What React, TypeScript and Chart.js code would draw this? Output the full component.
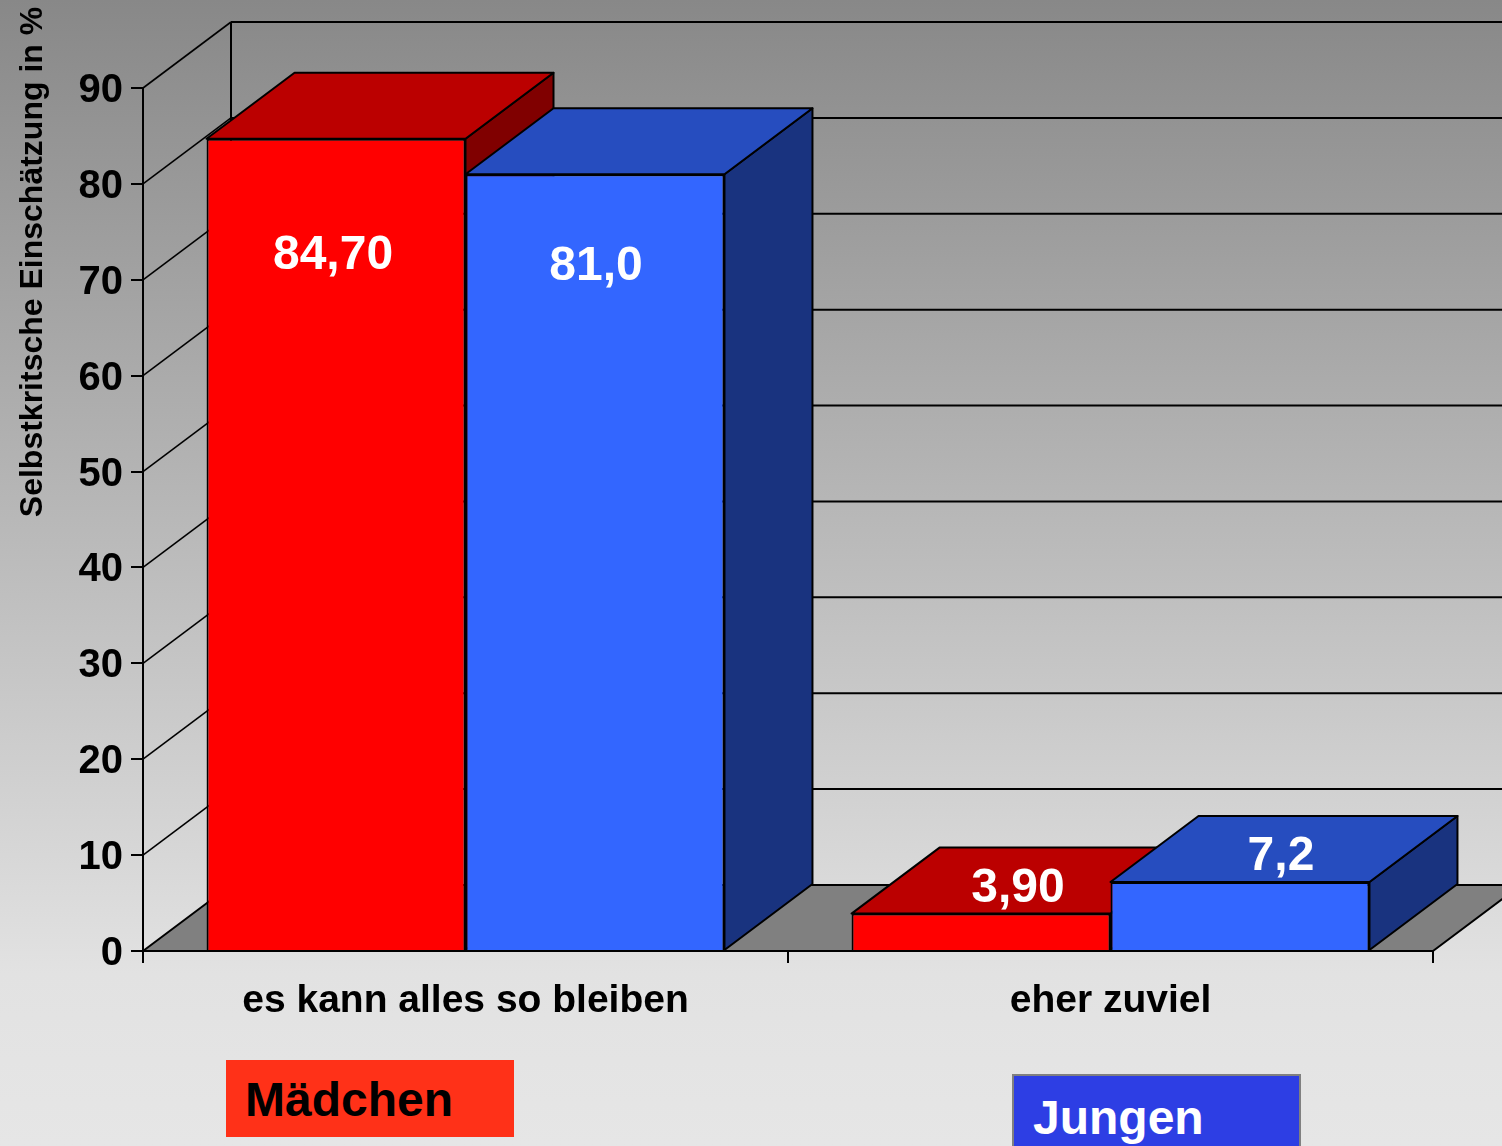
import React, { useEffect, useRef } from "react";
import { Chart, registerables } from "chart.js";

Chart.register(...registerables);

const categories = ["es kann alles so bleiben", "eher zuviel"];
const maedchen = [84.7, 3.9];
const jungen = [81.0, 7.2];
const maedchenLabels = ["84,70", "3,90"];
const jungenLabels = ["81,0", "7,2"];
const axisTitle = "Selbstkritsche Einschätzung in %";
const legendNames = ["Mädchen", "Jungen"];

const FONT = '"Liberation Sans", Arial, sans-serif';
const DX = 88;
const DY = 66;

const faces = [
  { top: "#BB0000", side: "#800000" },
  { top: "#264DBF", side: "#19337F" },
];
// label placement relative to the top-centre of each bar [dx, dy]
const labelShift = [
  [[-3, 117], [37, -25]],
  [[1, 92], [41, -25]],
];

function poly(ctx: CanvasRenderingContext2D, pts: number[][], fill: string | null) {
  ctx.beginPath();
  pts.forEach((p, i) => (i ? ctx.lineTo(p[0], p[1]) : ctx.moveTo(p[0], p[1])));
  ctx.closePath();
  if (fill) {
    ctx.fillStyle = fill;
    ctx.fill();
  }
  ctx.stroke();
}

const scene3d = {
  id: "scene3d",
  beforeDraw(chart: any) {
    const { ctx, width, height } = chart;
    const g = ctx.createLinearGradient(0, 0, 0, height);
    g.addColorStop(0, "#888888");
    g.addColorStop(0.85, "#E2E2E2");
    g.addColorStop(1, "#E6E6E6");
    ctx.save();
    ctx.fillStyle = g;
    ctx.fillRect(0, 0, width, height);
    ctx.restore();
  },
  beforeDatasetsDraw(chart: any) {
    const { ctx, chartArea: a, scales } = chart;
    const y = scales.y;
    ctx.save();
    ctx.strokeStyle = "#000";
    ctx.lineJoin = "round";
    // floor
    ctx.lineWidth = 2;
    poly(
      ctx,
      [
        [a.left, a.bottom],
        [a.left + DX, a.bottom - DY],
        [a.right + DX, a.bottom - DY],
        [a.right, a.bottom],
      ],
      "#808080"
    );
    // walls
    y.ticks.forEach((t: any) => {
      const py = y.getPixelForValue(t.value);
      if (t.value > 0) {
        ctx.lineWidth = 1.6;
        ctx.beginPath();
        ctx.moveTo(a.left, py);
        ctx.lineTo(a.left + DX, py - DY);
        ctx.stroke();
        ctx.lineWidth = 2;
        ctx.beginPath();
        ctx.moveTo(a.left + DX, py - DY);
        ctx.lineTo(a.right + DX, py - DY);
        ctx.stroke();
      }
    });
    ctx.lineWidth = 2;
    ctx.beginPath();
    ctx.moveTo(a.left + DX, a.top - DY);
    ctx.lineTo(a.left + DX, a.bottom - DY);
    ctx.stroke();
    // bar depth faces
    const count = chart.data.labels.length;
    for (let c = 0; c < count; c++) {
      chart.data.datasets.forEach((_: any, d: number) => {
        const b = chart.getDatasetMeta(d).data[c];
        const l = b.x - b.width / 2;
        const r = b.x + b.width / 2;
        ctx.lineWidth = 2;
        poly(ctx, [[r, b.y], [r + DX, b.y - DY], [r + DX, b.base - DY], [r, b.base]], faces[d].side);
        poly(ctx, [[l, b.y], [l + DX, b.y - DY], [r + DX, b.y - DY], [r, b.y]], faces[d].top);
      });
    }
    ctx.restore();
  },
  afterDatasetsDraw(chart: any) {
    const { ctx } = chart;
    ctx.save();
    ctx.font = `bold 48px ${FONT}`;
    ctx.fillStyle = "#FFFFFF";
    ctx.textAlign = "center";
    ctx.textBaseline = "middle";
    [maedchenLabels, jungenLabels].forEach((labels, d) => {
      labels.forEach((txt, c) => {
        const b = chart.getDatasetMeta(d).data[c];
        const s = labelShift[d][c];
        ctx.fillText(txt, b.x + s[0], b.y + s[1]);
      });
    });
    // axis title
    ctx.translate(33, 262);
    ctx.rotate(-Math.PI / 2);
    ctx.font = `bold 32px ${FONT}`;
    ctx.fillStyle = "#000";
    ctx.fillText(axisTitle, 0, 0);
    ctx.restore();
  },
};

const legendBox: React.CSSProperties = {
  position: "absolute",
  boxSizing: "border-box",
  width: 288,
  font: `bold 48px ${FONT}`,
  whiteSpace: "nowrap",
};

export default function App() {
  const ref = useRef<HTMLCanvasElement>(null);
  useEffect(() => {
    document.body.style.margin = "0";
    const chart = new Chart(ref.current!, {
      type: "bar",
      data: {
        labels: categories,
        datasets: [
          { label: legendNames[0], data: maedchen, backgroundColor: "#FF0000", borderColor: "#000", borderWidth: 2 },
          { label: legendNames[1], data: jungen, backgroundColor: "#3366FF", borderColor: "#000", borderWidth: 2 },
        ],
      },
      options: {
        animation: false,
        responsive: false,
        layout: { padding: { left: 0, top: 88, right: 69, bottom: 0 } },
        datasets: { bar: { categoryPercentage: 0.803, barPercentage: 1 } },
        plugins: { legend: { display: false }, tooltip: { enabled: false }, title: { display: false } },
        scales: {
          x: {
            afterFit(s: any) { s.height = 195; },
            grid: { drawOnChartArea: false, drawTicks: true, tickLength: 12, color: "#000", lineWidth: 2, offset: true },
            border: { color: "#000", width: 2 },
            ticks: { color: "#000", font: { family: FONT, size: 39, weight: "bold" }, padding: 15, maxRotation: 0, autoSkip: false },
          },
          y: {
            min: 0,
            max: 90,
            afterFit(s: any) { s.width = 143; },
            grid: { drawOnChartArea: false, drawTicks: true, tickLength: 12, color: "#000", lineWidth: 2 },
            border: { color: "#000", width: 2 },
            ticks: { stepSize: 10, color: "#000", font: { family: FONT, size: 40, weight: "bold" }, padding: 8, labelOffset: 3 },
          },
        },
      } as any,
      plugins: [scene3d],
    });
    return () => chart.destroy();
  }, []);
  return (
    <div style={{ position: "relative", width: 1502, height: 1146, overflow: "hidden" }}>
      <canvas ref={ref} width={1502} height={1146} style={{ display: "block" }} />
      <div style={{ ...legendBox, left: 226, top: 1060, height: 77, background: "#FF3118", color: "#000", padding: "12px 0 0 19px" }}>
        {legendNames[0]}
      </div>
      <div style={{ ...legendBox, left: 1012, top: 1074, width: 289, height: 90, background: "#2D3EE4", color: "#FFF", border: "2px solid #808080", padding: "14px 0 0 19px" }}>
        {legendNames[1]}
      </div>
    </div>
  );
}
